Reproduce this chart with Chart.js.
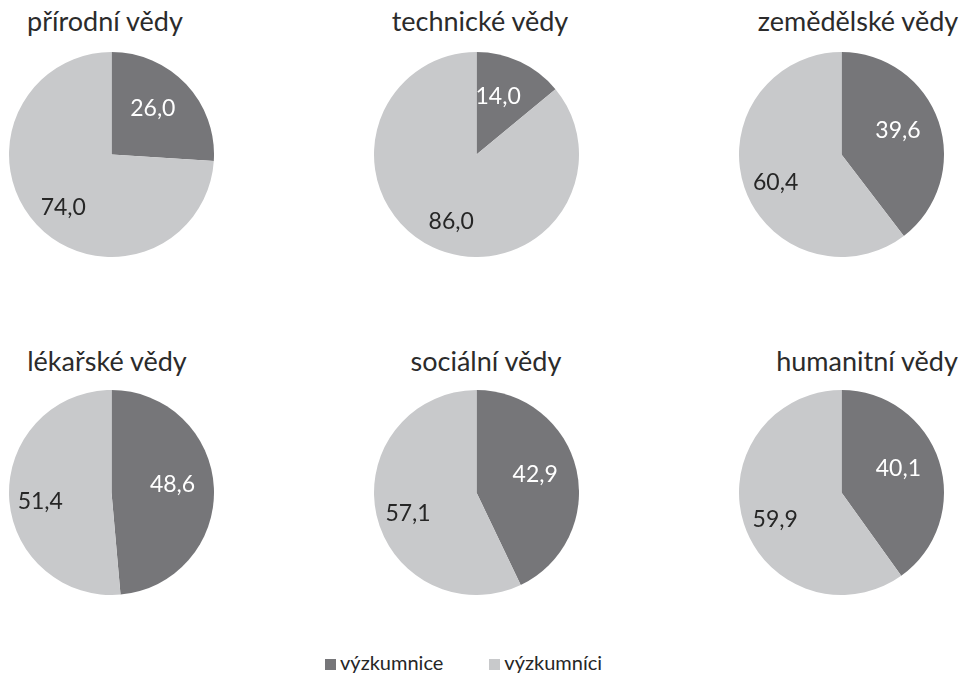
<!DOCTYPE html>
<html>
<head>
<meta charset="utf-8">
<script src="https://cdn.jsdelivr.net/npm/chart.js@4"></script>
<style>
    body { margin: 0; background: #fff; width: 963px; height: 683px; overflow: hidden; position: relative; font-family: Lato, sans-serif; color: #262626; }
    .pie { position: absolute; width: 205px; height: 205px; }
    .title { position: absolute; width: 300px; text-align: center; font-size: 27px; line-height: normal; white-space: nowrap; color: #2b2b2b; }
    #legend { position: absolute; top: 650px; left: 325px; font-size: 20px; white-space: nowrap; }
    #legend span.item { margin-right: 46px; }
    #legend span.box { display: inline-block; width: 11px; height: 11px; margin-right: 4px; }
</style>
</head>
<body>
<div id="charts"></div>
<div id="legend"></div>
<script>
// obory a podily (%)
const fields = ['přírodní vědy', 'technické vědy', 'zemědělské vědy', 'lékařské vědy', 'sociální vědy', 'humanitní vědy']
const vyzkumnice = [26.0, 14.0, 39.6, 48.6, 42.9, 40.1]
const vyzkumnici = [74.0, 86.0, 60.4, 51.4, 57.1, 59.9]
const seriesNames = ['výzkumnice', 'výzkumníci']
const colors = ['#767679', '#c8c9cb']

// rozlozeni
const pieCenterX = [111, 476, 841]
const pieTop = [51.5, 389.5]
const titleCenterX = [[105, 480, 858], [107, 486, 867]]
const titleTop = [4, 344]

const valueLabels = {
    id: 'valueLabels',
    afterDatasetsDraw(chart) {
        const ctx = chart.ctx
        const meta = chart.getDatasetMeta(0)
        const values = chart.data.datasets[0].data
        ctx.save()
        ctx.font = '23px Lato'
        ctx.textAlign = 'center'
        ctx.textBaseline = 'middle'
        meta.data.forEach((arc, i) => {
            const p = arc.getProps(['x', 'y', 'startAngle', 'endAngle', 'outerRadius'], true)
            const mid = (p.startAngle + p.endAngle) / 2 - 0.08
            const r = p.outerRadius * (i === 0 ? 0.6 : 0.7)
            ctx.fillStyle = i === 0 ? '#ffffff' : '#262626'
            ctx.fillText(values[i].toFixed(1).replace('.', ','), p.x + Math.cos(mid) * r, p.y + Math.sin(mid) * r)
        })
        ctx.restore()
    }
}

fields.forEach((name, i) => {
    let row = Math.floor(i / 3)
    let col = i % 3

    let title = document.createElement('div')
    title.classList.add('title')
    title.innerText = name
    title.style.left = (titleCenterX[row][col] - 150) + 'px'
    title.style.top = titleTop[row] + 'px'
    document.getElementById('charts').appendChild(title)

    let div = document.createElement('div')
    div.classList.add('pie')
    div.style.left = (pieCenterX[col] - 102.5) + 'px'
    div.style.top = pieTop[row] + 'px'
    let canvas = document.createElement('canvas')
    div.appendChild(canvas)
    document.getElementById('charts').appendChild(div)

    new Chart(canvas.getContext('2d'), {
        type: 'pie',
        data: {
            labels: seriesNames,
            datasets: [{
                data: [vyzkumnice[i], vyzkumnici[i]],
                backgroundColor: colors,
                borderWidth: 0,
                hoverOffset: 0
            }]
        },
        options: {
            responsive: true,
            maintainAspectRatio: false,
            animation: false,
            layout: { padding: 0 },
            plugins: {
                legend: { display: false },
                tooltip: { enabled: false },
                title: { display: false }
            }
        },
        plugins: [valueLabels]
    })
})

// legenda
let legend = document.getElementById('legend')
seriesNames.forEach((s, i) => {
    let item = document.createElement('span')
    item.classList.add('item')
    let box = document.createElement('span')
    box.classList.add('box')
    box.style.background = colors[i]
    item.appendChild(box)
    item.appendChild(document.createTextNode(s))
    legend.appendChild(item)
})
</script>
</body>
</html>
